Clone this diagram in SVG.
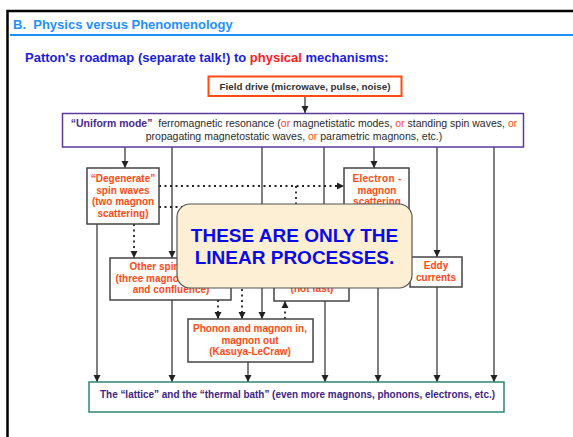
<svg xmlns="http://www.w3.org/2000/svg" width="573" height="437" viewBox="0 0 573 437">
<style>
text{font-family:"Liberation Sans",Arial,sans-serif}
.box{fill:#fff;stroke:#444;stroke-width:1.5}
.or{fill:#ff4a14;font-weight:bold;font-size:10px;text-anchor:middle}
.ln{fill:none;stroke:#2a2a2a;stroke-width:1.2}
.dt{fill:none;stroke:#222;stroke-width:1.8;stroke-dasharray:2 3.5}
.o{fill:#ff4a14}
</style>
<defs>
<marker id="arr" viewBox="0 0 8 8" refX="8" refY="4" markerWidth="7" markerHeight="8" orient="auto" markerUnits="userSpaceOnUse">
<path d="M0,0 L8,4 L0,8 z" fill="#222"/>
</marker>
</defs>
<rect width="573" height="437" fill="#fff"/>
<g id="frame">
<rect x="7.5" y="11" width="600" height="500" fill="none" stroke="#000" stroke-width="2.5"/>
<line x1="10" y1="35" x2="573" y2="35" stroke="#1e90ff" stroke-width="2"/>
<text x="13" y="29" font-size="13" font-weight="bold" fill="#1e90ff" xml:space="preserve">B.  Physics versus Phenomenology</text>
<text x="25" y="62" font-size="13" font-weight="bold" fill="#1c1cdc">Patton's roadmap (separate talk!) to <tspan fill="#ff1a1a">physical</tspan> mechanisms:</text>
</g>
<g id="connectors">
<line class="ln" x1="305" y1="96" x2="305" y2="113" marker-end="url(#arr)"/>
<line class="ln" x1="125" y1="147" x2="125" y2="168" marker-end="url(#arr)"/>
<line class="ln" x1="172" y1="147" x2="172" y2="258" marker-end="url(#arr)"/>
<line class="ln" x1="262" y1="147" x2="262" y2="319" marker-end="url(#arr)"/>
<line class="ln" x1="324" y1="147" x2="324" y2="258" marker-end="url(#arr)"/>
<line class="ln" x1="374" y1="147" x2="374" y2="168" marker-end="url(#arr)"/>
<line class="ln" x1="437" y1="147" x2="437" y2="257" marker-end="url(#arr)"/>
<line class="ln" x1="494" y1="147" x2="494" y2="382" marker-end="url(#arr)"/>
<line class="ln" x1="97" y1="224" x2="97" y2="382" marker-end="url(#arr)"/>
<line class="ln" x1="172" y1="300" x2="172" y2="382" marker-end="url(#arr)"/>
<line class="ln" x1="248" y1="362" x2="248" y2="382" marker-end="url(#arr)"/>
<line class="ln" x1="325" y1="301" x2="325" y2="382" marker-end="url(#arr)"/>
<line class="ln" x1="378" y1="214" x2="378" y2="382" marker-end="url(#arr)"/>
<line class="ln" x1="437" y1="287" x2="437" y2="382" marker-end="url(#arr)"/>
<path class="dt" d="M159,186 H344" marker-end="url(#arr)"/>
<path class="dt" d="M296,186 V258" marker-end="url(#arr)"/>
<path class="dt" d="M159,207 H242 V319" marker-end="url(#arr)"/>
<path class="dt" d="M134,224 V258" marker-end="url(#arr)"/>
<path class="dt" d="M218,300 V319" marker-end="url(#arr)"/>
<path class="dt" d="M285,319 V301" marker-end="url(#arr)"/>
</g>
<g id="field">
<rect x="208.5" y="76.5" width="193" height="19.5" fill="#fff" stroke="#ff4a14" stroke-width="2"/>
<text x="305" y="89.5" font-size="9.8" font-weight="bold" fill="#333" text-anchor="middle">Field drive (microwave, pulse, noise)</text>
</g>
<g id="uniform">
<rect x="62.5" y="113.5" width="461" height="33.5" fill="#fff" stroke="#5a3a9a" stroke-width="1.5"/>
<text x="294" y="127" font-size="10.5" fill="#2a2a2a" text-anchor="middle" xml:space="preserve"><tspan fill="#4b2a8c" font-weight="bold">“Uniform mode”</tspan>  ferromagnetic resonance (<tspan class="o">or</tspan> magnetistatic modes, <tspan class="o">or</tspan> standing spin waves, <tspan class="o">or</tspan></text>
<text x="294" y="140" font-size="10.5" fill="#2a2a2a" text-anchor="middle">propagating magnetostatic waves, <tspan class="o">or</tspan> parametric magnons, etc.)</text>
</g>
<g id="degenerate">
<rect class="box" x="87" y="168" width="72" height="56"/>
<text class="or" x="123" y="182">“Degenerate”</text>
<text class="or" x="123" y="193.5">spin waves</text>
<text class="or" x="123" y="205">(two magnon</text>
<text class="or" x="123" y="216.5">scattering)</text>
</g>
<g id="otherspin">
<rect class="box" x="110" y="258" width="121" height="42"/>
<text class="or" x="171" y="270">Other spin waves</text>
<text class="or" x="171" y="281.5">(three magnon splitting</text>
<text class="or" x="171" y="293">and confluence)</text>
</g>
<g id="notfast">
<rect class="box" x="274" y="258" width="75" height="43"/>
<text class="or" x="312" y="292">(not fast)</text>
</g>
<g id="electron">
<rect class="box" x="344" y="168" width="65" height="46"/>
<text class="or" x="377" y="182" letter-spacing="0.3">Electron -</text>
<text class="or" x="377" y="193.5">magnon</text>
<text class="or" x="377" y="205">scattering</text>
</g>
<g id="eddy">
<rect class="box" x="410" y="257" width="52" height="30"/>
<text class="or" x="436" y="269">Eddy</text>
<text class="or" x="436" y="280.5">currents</text>
</g>
<g id="phonon">
<rect class="box" x="188" y="319" width="125" height="43"/>
<text class="or" x="250" y="332">Phonon and magnon in,</text>
<text class="or" x="250" y="343.5">magnon out</text>
<text class="or" x="250" y="355">(Kasuya-LeCraw)</text>
</g>
<g id="lattice">
<rect x="89" y="382" width="415" height="30" fill="#fff" stroke="#2f8577" stroke-width="1.5"/>
<text x="100" y="398" font-size="10.5" font-weight="bold" fill="#3d2585" textLength="395" lengthAdjust="spacingAndGlyphs">The “lattice” and the “thermal bath” (even more magnons, phonons, electrons, etc.)</text>
</g>
<g id="callout">
<rect x="177" y="204" width="235" height="84" rx="13" fill="#fcefd3" stroke="#555" stroke-width="1.2"/>
<text x="294.5" y="242" font-size="19" font-weight="bold" fill="#0a0ae6" text-anchor="middle">THESE ARE ONLY THE</text>
<text x="294.5" y="264" font-size="19" font-weight="bold" fill="#0a0ae6" text-anchor="middle">LINEAR PROCESSES.</text>
</g>
</svg>
